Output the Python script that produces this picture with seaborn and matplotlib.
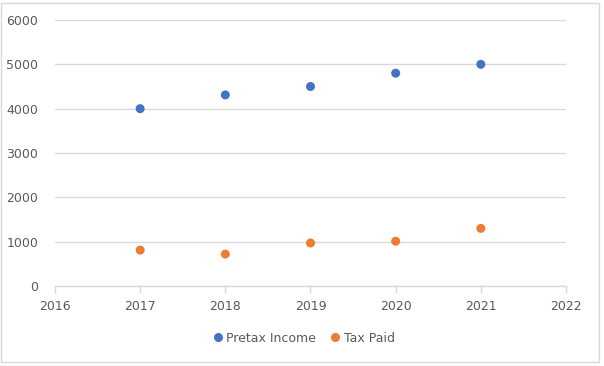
import matplotlib
matplotlib.use("Agg")
import matplotlib.pyplot as plt
import seaborn as sns
import pandas as pd
from matplotlib.patches import Rectangle
from matplotlib.lines import Line2D

years = [2017, 2018, 2019, 2020, 2021]
pretax_income = [4000, 4310, 4500, 4800, 5000]
tax_paid = [810, 720, 970, 1010, 1300]
series_names = ["Pretax Income", "Tax Paid"]
colors = ["#4472C4", "#ED7D31"]

df = pd.DataFrame({
    "Year": years * 2,
    "Value": pretax_income + tax_paid,
    "Series": [series_names[0]] * len(years) + [series_names[1]] * len(years),
})

sns.set_theme(style="white")
plt.rcParams["font.family"] = ["DejaVu Sans"]

W, H = 604, 366
fig = plt.figure(figsize=(W / 100, H / 100), dpi=100)
ax = fig.add_axes([55 / W, 1 - 286 / H, (566 - 55) / W, (286 - 20) / H])

sns.scatterplot(data=df, x="Year", y="Value", hue="Series", palette=colors,
                s=42, edgecolor="none", ax=ax, legend=False, zorder=3)

ax.set_xlim(2016, 2022)
ax.set_ylim(0, 6000)
ax.set_xticks(range(2016, 2023))
ax.set_yticks(range(0, 6001, 1000))
ax.set_xlabel("")
ax.set_ylabel("")
ax.grid(axis="y", color="#d9d9d9", linewidth=1)
ax.set_axisbelow(True)
for s in ["top", "right", "left"]:
    ax.spines[s].set_visible(False)
ax.spines["bottom"].set_color("#d9d9d9")
ax.spines["bottom"].set_linewidth(1)
ax.tick_params(axis="x", colors="#595959", length=5, width=1, color="#d9d9d9",
               direction="out", pad=5, labelsize=9, bottom=True)
ax.tick_params(axis="y", colors="#595959", length=0, pad=12, labelsize=9)

handles = [Line2D([], [], marker="o", linestyle="none", markersize=6.5,
                  markerfacecolor=c, markeredgecolor="none") for c in colors]
leg = fig.legend(handles, series_names, loc="center", bbox_to_anchor=(303 / W, 1 - 338 / H),
                 ncol=2, frameon=False, fontsize=9, handletextpad=0.2, columnspacing=1.0,
                 handlelength=1.0)
for t in leg.get_texts():
    t.set_color("#595959")

fig.patches.append(Rectangle((1 / W, 1 - 362 / H), 598 / W, 359 / H, transform=fig.transFigure,
                             fill=False, edgecolor="#d9d9d9", linewidth=1))

fig.savefig("out.png", dpi=100)
